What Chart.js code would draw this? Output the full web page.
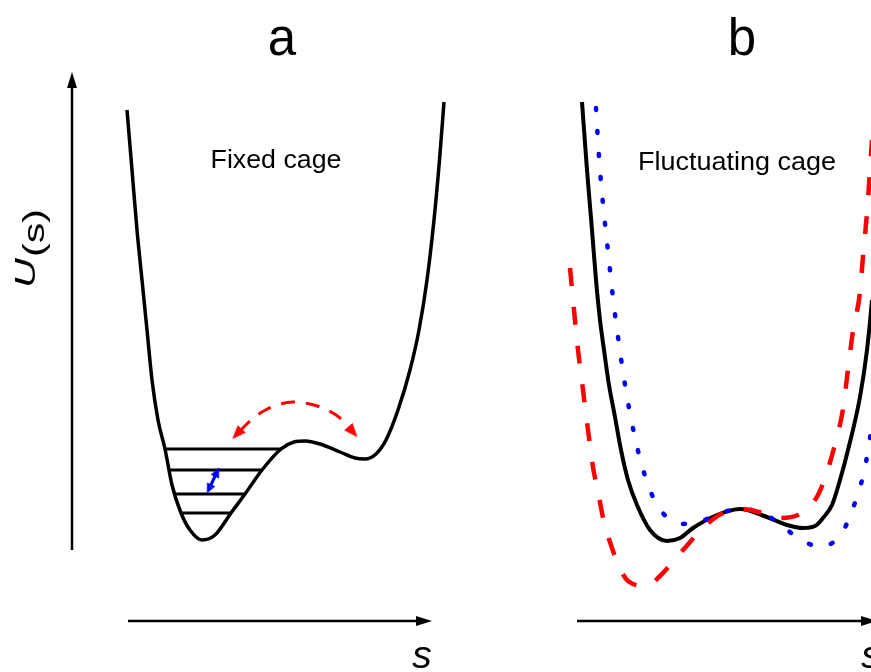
<!DOCTYPE html>
<html>
<head>
<meta charset="utf-8">
<script src="https://cdn.jsdelivr.net/npm/chart.js@4/dist/chart.umd.min.js"></script>
<style>
  body { margin: 0; background: #fff; }
</style>
</head>
<body>
<canvas id="cage" width="871" height="672"></canvas>
<script>
// Schematic potentials U(s) along the cage coordinate s.
// Units: s runs 0..871 left to right, U runs 0..672 bottom to top.

// --- panel a: fixed cage ---
const fixedS = [127, 132, 137, 142, 147, 152, 158, 165, 172, 181, 190, 202, 215, 231, 245, 262, 281, 294, 305, 320, 340, 355, 365, 376, 386, 398, 410, 419, 427, 434, 439.5, 444]
const fixedU = [562, 502, 442, 392, 342, 292, 252, 223, 187, 159, 142, 132, 137, 159, 178, 202, 223, 230, 231, 228, 220, 214, 213, 218, 232, 262, 302, 342, 392, 452, 512, 570]

// vibrational levels inside the deep well
const levelU = [223, 202, 178, 159]
const levelFrom = [165, 168, 175, 182]
const levelTo = [281, 262, 245, 231]

// blue double arrow between two levels
const hopS = [209, 217]
const hopU = [183, 200]
const hopRot = [204.8, 24.8]

// red dashed arc (hop over the barrier)
const arcS = [240, 250, 262, 277, 293, 310, 327, 340, 350]
const arcU = [241, 251, 260, 267, 270, 268, 262, 254, 243]
const arcHeadS = [237, 353]
const arcHeadU = [238, 240]
const arcHeadRot = [223, 139]

// --- panel b: fluctuating cage ---
const cageS = [582, 587, 592, 596, 600, 604, 609, 615, 621, 628, 637, 650, 667, 680, 693, 717, 740, 767, 787, 803, 815, 823, 832, 840, 848, 860, 867, 872, 876]
const cageU = [570, 502, 442, 392, 352, 322, 287, 255, 222, 192, 167, 142, 131, 134, 144, 157, 163, 155, 147, 144, 146, 154, 167, 192, 222, 275, 322, 372, 432]

const softS = [596, 599, 603, 608, 613, 619, 626, 635, 641, 648, 659, 681, 704, 727, 750, 773, 797, 821, 843, 853, 861, 866, 870, 874]
const softU = [564, 515, 468, 421, 374, 328, 281, 234, 210, 187, 164, 148, 152, 161, 162, 153, 135, 125, 141, 164, 188, 210, 234, 262]

const stiffS = [570, 574, 578, 583, 588, 593, 598, 604, 612, 618, 628, 647, 660, 683, 703, 721, 742, 759, 780, 798, 810, 818, 825, 834, 843, 848, 853, 860, 863, 867, 870, 872]
const stiffU = [404, 362, 322, 282, 242, 205, 180, 150, 124, 108, 91, 86, 96, 122, 144, 158, 163, 160, 154, 157, 166, 177, 194, 224, 263, 303, 341, 380, 416, 459, 502, 532]

// axes (drawn as arrows)
const axisUpS = [72, 72]
const axisUpU = [122, 588]
const axisAS = [128, 424]
const axisBS = [577, 871]
const axisU = [51, 51]
const axisHeadS = [72, 424, 869]
const axisHeadU = [592, 51, 51]
const axisHeadRot = [0, 90, 90]

function pts(xs, ys) {
    return xs.map((x, i) => ({ x: x, y: ys[i] }))
}

function arrowHead(len, wid, color) {
    const c = document.createElement('canvas')
    c.width = wid
    c.height = len
    const g = c.getContext('2d')
    g.fillStyle = color
    g.beginPath()
    g.moveTo(wid / 2, 0)
    g.lineTo(wid, len)
    g.lineTo(0, len)
    g.closePath()
    g.fill()
    return c
}

function line(xs, ys, color, width, extra) {
    return Object.assign({
        data: pts(xs, ys),
        showLine: true,
        borderColor: color,
        borderWidth: width,
        tension: 0,
        pointRadius: 0,
        borderJoinStyle: 'round',
        fill: false
    }, extra || {})
}

function heads(xs, ys, rot, style) {
    return {
        data: pts(xs, ys),
        showLine: false,
        pointStyle: style,
        pointRadius: 5,
        pointRotation: rot,
        pointBackgroundColor: '#000',
        pointBorderWidth: 0
    }
}

const RED = '#ff0000'
const BLUE = '#0000ff'
const smooth = { cubicInterpolationMode: 'monotone' }

let datasets = []
// panel b: red on top, then blue, then black
datasets.push(line(stiffS, stiffU, RED, 4.5, Object.assign({ borderDash: [18, 21] }, smooth)))
datasets.push(line(softS, softU, BLUE, 4.5, Object.assign({ borderDash: [2, 21], borderCapStyle: 'round' }, smooth)))
datasets.push(line(cageS, cageU, '#000', 4, smooth))

// panel a
datasets.push(heads(arcHeadS, arcHeadU, arcHeadRot, arrowHead(14, 11, RED)))
datasets.push(line(arcS, arcU, RED, 3, Object.assign({ borderDash: [14, 11] }, smooth)))
datasets.push(heads(hopS, hopU, hopRot, arrowHead(10, 9, BLUE)))
datasets.push(line(hopS, hopU, BLUE, 3))
for (let i = 0; i < levelU.length; i++) {
    datasets.push(line([levelFrom[i], levelTo[i]], [levelU[i], levelU[i]], '#000', 3))
}
datasets.push(line(fixedS, fixedU, '#000', 3.5, smooth))

// axes
datasets.push(heads(axisHeadS, axisHeadU, axisHeadRot, arrowHead(16, 10, '#000')))
datasets.push(line(axisUpS, axisUpU, '#000', 2.5))
datasets.push(line(axisAS, axisU, '#000', 2.5))
datasets.push(line(axisBS, axisU, '#000', 2.5))

// text labels, placed through the scales
const captions = [
    { text: 'a', s: 282, U: 617, font: '51px "Liberation Sans"', stretch: 1 },
    { text: 'b', s: 742, U: 617, font: '51px "Liberation Sans"', stretch: 1 },
    { text: 'Fixed cage', s: 276, U: 504, font: '25px "Liberation Sans"', stretch: 1.07 },
    { text: 'Fluctuating cage', s: 737, U: 502, font: '25px "Liberation Sans"', stretch: 1.08 },
    { text: 's', s: 422, U: 4, font: 'italic 39px "Liberation Sans"', stretch: 1 },
    { text: 's', s: 871, U: 4, font: 'italic 39px "Liberation Sans"', stretch: 1 }
]

const labelPlugin = {
    id: 'labels',
    afterDraw(chart) {
        const ctx = chart.ctx
        const xs = chart.scales.x
        const ys = chart.scales.y
        ctx.save()
        ctx.fillStyle = '#000'
        ctx.textBaseline = 'alphabetic'
        for (const c of captions) {
            ctx.save()
            ctx.translate(xs.getPixelForValue(c.s), ys.getPixelForValue(c.U))
            ctx.scale(c.stretch, 1)
            ctx.font = c.font
            ctx.textAlign = 'center'
            ctx.fillText(c.text, 0, 0)
            ctx.restore()
        }

        // rotated U(s) axis title, "U" italic
        ctx.translate(xs.getPixelForValue(35), ys.getPixelForValue(384))
        ctx.rotate(-Math.PI / 2)
        ctx.scale(1.37, 1)
        ctx.textAlign = 'left'
        ctx.font = 'italic 30px "Liberation Sans"'
        ctx.fillText('U', 0, 0)
        const w = ctx.measureText('U').width
        ctx.font = '30px "Liberation Sans"'
        ctx.fillText('(s)', w + 1, 9)
        ctx.restore()
    }
}

new Chart(document.getElementById('cage'), {
    type: 'scatter',
    data: { datasets: datasets },
    options: {
        responsive: false,
        animation: false,
        devicePixelRatio: 1,
        events: [],
        layout: { padding: 0, autoPadding: false },
        plugins: { legend: { display: false }, tooltip: { enabled: false } },
        scales: {
            x: { type: 'linear', min: 0, max: 871, display: false },
            y: { type: 'linear', min: 0, max: 672, display: false }
        }
    },
    plugins: [labelPlugin]
})
</script>
</body>
</html>
